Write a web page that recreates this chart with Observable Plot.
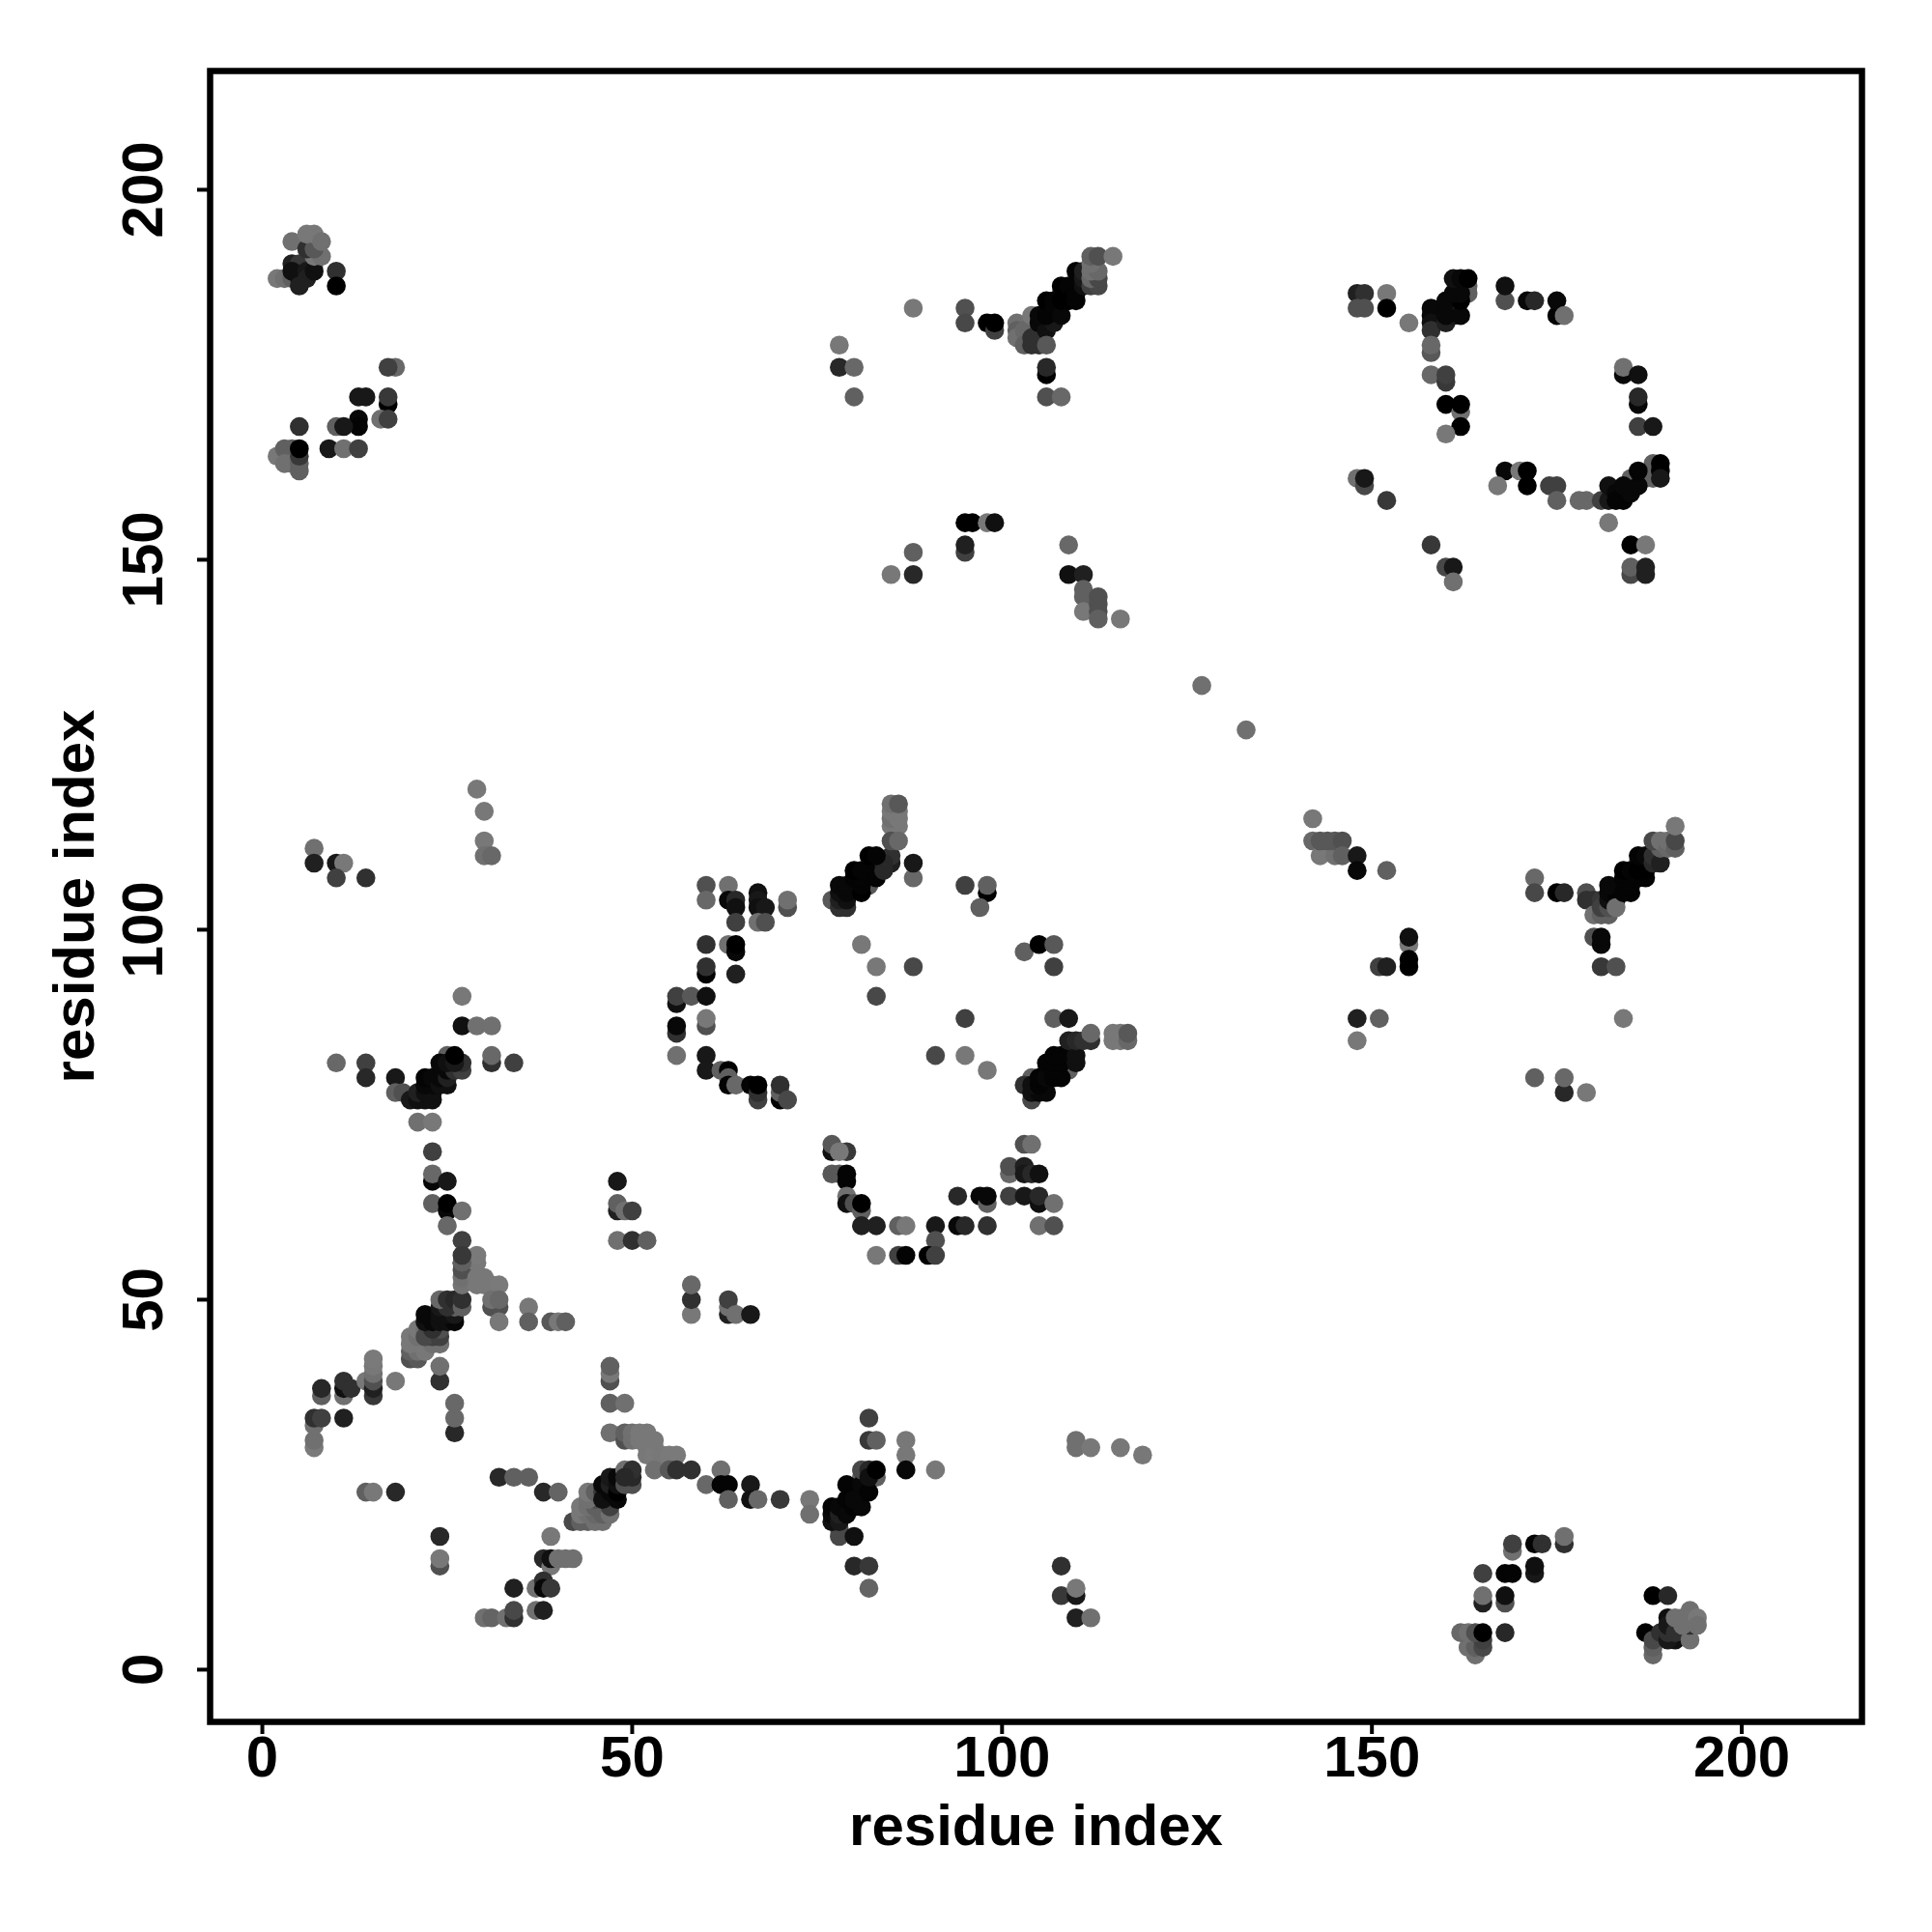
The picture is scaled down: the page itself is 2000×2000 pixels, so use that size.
<!DOCTYPE html>
<html><head><meta charset="utf-8">
<script src="https://cdn.jsdelivr.net/npm/d3@7"></script>
<script src="https://cdn.jsdelivr.net/npm/@observablehq/plot@0.6"></script>
<style>html,body{margin:0;padding:0;background:#fff}</style>
</head><body><div id="chart"></div>
<script>
// Each contact: [residue x, residue y, shade 0 (strong) .. 128 (weak)]
const tickValues = [0, 50, 100, 150, 200];
const axisLabel = "residue index";

const lowerLeft = [
[7,30,122],[7,31,112],[7,33,112],[7,34,48],[8,34,64],[8,37,96],[8,38,40],[11,34,32],[11,37,112],[11,38,16],[11,39,48],[12,38,48],
[14,39,120],[15,37,56],[15,38,32],[15,39,80],[15,40,112],[15,41,120],[15,42,122],[18,39,120],
[14,24,96],[15,24,120],[18,24,40],[24,18,40],[24,14,80],[24,15,120],[24,39,48],[24,41,112],[26,32,40],[26,34,104],[26,36,104],
[20,42,80],[21,42,88],[20,43,96],[21,43,112],[22,43,120],[23,44,112],[24,44,112],[20,44,120],[20,45,120],[21,45,112],[21,46,120],[22,46,112],
[23,45,64],[22,45,72],[24,45,64],[24,46,80],[23,46,48],[22,47,16],[23,47,8],[22,48,8],[24,47,16],[25,47,16],[26,47,8],[24,48,16],[25,48,16],[24,49,24],
[26,48,24],[26,49,96],[25,49,48],[24,50,104],[25,50,48],[26,50,40],[27,49,96],[27,50,48],
[27,52,116],[27,53,112],[27,54,80],[27,55,48],[29,52,120],[29,53,120],[30,53,120],[30,52,120],[31,52,120],[32,52,122],[29,55,120],[29,56,122],
[31,49,80],[32,49,80],[31,50,112],[32,50,104],[32,47,120],[36,49,120],[36,47,96],[39,47,88],[40,47,120],[41,47,96],
[32,26,40],[34,26,96],[36,26,96],[38,24,40],[40,24,100],[39,18,120],[38,15,40],[39,14,120],[39,15,16],[40,15,112],[41,15,112],[42,15,112],
[34,11,32],[37,11,112],[38,12,48],[38,11,8],[39,11,56],[30,7,112],[31,7,100],[33,7,112],[34,7,48],[34,8,72],[37,8,112],[38,8,32]
];
const blobB = [
[42,20,72],[43,20,96],[44,20,96],[45,20,112],[46,20,112],[43,21,120],[44,21,112],[45,21,104],[43,22,120],[44,22,112],[45,22,96],[46,21,96],[47,21,112],[45,23,80],[47,22,64],[44,23,112],[44,24,120],[45,24,96],[46,24,56],
[46,23,16],[46,25,8],[47,24,8],[47,25,32],[48,23,8],[48,24,0],[47,26,24],[48,25,16],[48,26,8],[49,25,80],[50,25,80],[50,26,40],[49,27,112],[50,27,48],[49,26,40]
];
const lowerMid = [
[47,32,112],[47,36,96],[47,39,80],[47,40,120],[47,41,96],[49,36,112],[49,31,80],[49,32,96],[50,31,112],[50,32,112],[52,32,120],[52,30,120],[53,30,122],[52,29,120],[53,29,122],[54,29,120],[55,29,122],[56,29,122],[53,31,120],[51,31,120],[51,32,120],
[53,27,112],[55,27,88],[56,27,48],[58,27,48],[58,48,120],[58,50,48],[58,52,104],[63,48,32],[63,49,112],[63,50,64],[64,48,112],[66,48,24],
[60,25,104],[62,27,112],[62,25,4],[63,25,4],[63,23,96],[66,25,24],[66,23,16],[67,23,104],[70,23,56],[74,23,120],[74,21,112],
[80,24,96],[83,26,96],[81,26,96],[78,19,80],[78,18,72],[80,18,16],[77,20,16],[77,21,8],[77,22,4],[78,20,24],[78,21,32],[78,22,8],[79,21,8],[79,23,4],[79,25,4],[80,22,4],[81,22,8],[81,24,4],[80,23,8],[81,25,8],[82,24,4],[81,27,72],[82,27,40],[82,26,16],[83,27,0],
[82,34,64],[82,31,56],[83,31,96],[87,31,120],[87,29,120],[87,27,8],[91,27,120],[80,14,40],[82,14,56],[82,11,100],
[108,14,48],[108,10,56],[110,10,24],[110,11,120],[110,7,32],[112,7,112],[110,31,112],[110,30,112],[112,30,120],[116,30,120],[119,29,120],[133,127,112]
];
const leftMid = [
[7,111,112],[7,109,32],[10,109,24],[11,109,120],[10,107,64],[14,107,48],[29,119,120],[30,116,120],[30,112,120],[30,110,112],[31,110,104],
[27,91,120],[27,87,16],[29,87,112],[31,87,112],[10,82,104],[14,82,64],[14,80,40],[18,80,24],[18,78,96],[19,78,80],[31,82,48],[31,83,104],[34,82,64],
[24,81,96],[25,83,96],[20,77,24],[21,77,16],[22,77,16],[23,77,16],[21,78,32],[22,78,16],[23,78,16],[22,79,8],[23,79,8],[22,80,4],[23,80,8],[24,79,16],[25,79,16],[24,80,8],[25,80,32],[24,82,8],[25,81,8],[26,81,48],[25,82,16],[27,81,64],[27,82,48],[26,82,24],[26,83,0],
[21,74,112],[23,74,120],[23,70,64],[23,66,8],[23,67,104],[25,66,24],[23,63,96],[25,62,8],[25,63,0],[27,62,112],[25,60,104],[27,58,64],[27,55,96],[27,56,56],
[48,66,24],[48,62,32],[48,63,96],[49,62,112],[50,62,64],[48,58,112],[50,58,48],[52,58,96]
];
const ringCenter = [
[60,106,80],[63,106,112],[60,104,104],[63,104,8],[64,104,40],[64,103,16],[64,101,64],[67,105,16],[67,104,24],[67,103,16],[68,103,24],[67,101,112],[68,101,80],[71,103,80],[71,104,112],
[60,98,48],[63,98,112],[64,97,8],[64,98,0],[60,94,4],[60,95,48],[64,94,32],[56,90,16],[56,91,64],[58,91,88],[60,91,16],[56,86,48],[56,87,8],[60,87,80],[60,88,120],[56,83,112],[60,83,24],[60,81,24],[62,81,96],[63,81,0],[63,80,96],[63,79,4],[64,79,104],[66,79,4],[67,77,64],[67,78,48],[67,79,0],[70,77,4],[70,78,96],[70,79,48],[71,77,72],
[85,114,120],[86,114,120],[85,115,112],[86,115,120],[85,116,120],[86,116,120],[85,117,112],[86,117,88],
[85,109,32],[85,110,48],[85,112,80],[86,112,104],[88,107,104],[88,109,24],
[80,106,96],[82,106,88],[82,108,96],[77,104,88],[79,103,48],[78,103,48],[78,104,32],[79,104,16],[78,105,16],[79,105,8],[78,106,8],[79,106,8],[81,105,0],[81,106,4],[80,107,4],[81,107,4],[80,108,0],[81,108,4],[83,107,4],[83,108,4],[83,109,4],[84,109,40],[84,108,40],[82,110,0],[83,110,4],
[81,98,120],[83,95,120],[88,95,72],[83,91,72],[95,88,64],[91,83,72],[95,83,120],[98,81,120],[95,106,64],[98,105,0],[98,106,96],[97,103,96],[103,97,96],[105,98,0],[107,98,88],[107,95,64],[107,88,96],[109,88,24],
[104,80,96],[106,81,96],[108,81,100],[109,81,96],[104,77,72],[103,79,48],[104,78,16],[105,78,8],[106,78,8],[104,79,16],[105,79,4],[105,80,4],[106,80,8],[107,80,4],[108,80,4],[106,82,4],[107,81,4],[107,82,4],[108,82,4],[107,83,4],[108,83,4],[109,83,4],[110,82,16],[110,83,16],[109,85,32],[110,85,40],[111,85,48],[112,85,48],[112,86,104],
[115,85,120],[115,86,120],[116,85,120],[116,86,120],[117,85,104],[117,86,88],
[77,70,16],[77,71,88],[79,70,56],[78,70,120],[77,67,88],[78,67,88],[79,66,4],[79,67,4],[79,64,112],[79,63,16],[80,63,80],[81,62,96],[81,63,0],[81,60,32],[83,60,32],
[86,60,96],[87,60,120],[91,60,24],[91,58,80],[94,60,8],[95,60,40],[98,60,48],[94,64,40],[97,64,8],[98,63,96],[98,64,8],
[101,64,64],[103,64,24],[105,63,16],[105,64,40],[107,63,112],[105,60,112],[107,60,80],[101,67,104],[101,68,80],[103,68,32],[103,67,24],[104,67,40],[105,67,16],[103,71,80],[104,71,112],
[83,56,120],[86,56,64],[87,56,4],[90,56,0],[91,56,64]
];
const rightMid = [
[142,115,120],[142,112,104],[143,110,120],[145,110,112],[143,112,88],[144,112,88],[145,112,88],[146,112,80],[146,110,96],[148,110,24],[148,108,8],[152,108,96],
[155,98,120],[155,99,16],[155,96,0],[155,95,0],[151,95,64],[152,95,32],[148,88,32],[151,88,96],[148,85,120],
[172,107,104],[172,105,72],[175,105,0],[176,105,40],[179,105,80],[179,104,48],[180,104,48],[181,104,56],[180,102,112],[181,102,96],[182,102,96],[181,103,64],[182,103,80],
[184,106,96],[186,109,96],[182,104,16],[183,104,8],[182,105,8],[183,105,4],[182,106,8],[183,103,112],[184,105,4],[185,105,4],[185,106,4],[184,107,4],[185,107,4],[184,108,0],[185,108,4],[186,107,4],[187,107,4],[186,108,0],[187,108,0],[186,110,4],[187,110,8],[188,109,40],[188,110,48],[189,109,32],[189,111,96],[188,112,72],[189,112,112],[190,111,104],[190,112,112],[191,111,96],[191,112,72],[191,114,120],
[180,99,80],[181,98,8],[181,99,8],[181,95,56],[183,95,80],[184,88,120],[172,80,96],[176,78,40],[176,80,104],[179,78,120]
];
const upperMid = [
[88,184,120],[78,179,120],[78,176,40],[80,176,104],[80,172,96],[95,184,80],[95,182,72],[98,182,0],[99,181,64],[99,182,0],
[102,182,112],[102,181,96],[102,180,112],[103,181,104],[103,179,96],[104,179,48],[105,179,48],[104,180,48],[105,181,48],[104,183,120],[106,182,40],[105,182,8],[106,181,16],[107,182,24],[105,183,8],[106,183,4],[106,179,88],[106,175,0],[106,176,40],[106,172,80],[108,172,104],
[108,186,96],[110,187,96],[106,185,0],[107,185,4],[107,184,4],[108,183,8],[108,185,0],[108,187,0],[109,187,4],[109,185,0],[110,185,4],[110,186,4],[110,189,4],[111,187,16],[111,188,24],[111,189,32],[112,187,64],[113,187,72],[112,188,104],[113,188,72],[112,189,112],[113,189,104],[112,190,112],[112,191,96],[113,191,80],[115,191,120],
[95,151,64],[95,152,32],[95,155,0],[96,155,0],[98,155,120],[99,155,16],[88,151,96],[88,148,40],[85,148,120],
[109,152,104],[109,148,16],[111,148,32],[111,146,96],[111,145,96],[111,143,120],[113,145,80],[113,144,80],[113,143,80],[113,142,96],[116,142,120],
[127,133,112]
];
const upperRight = [
[148,186,32],[149,186,48],[148,184,80],[149,184,80],[152,186,120],[152,184,0],[155,182,120],
[158,184,8],[158,183,8],[158,182,16],[158,181,48],[158,178,88],[158,179,104],[158,175,104],[160,174,56],[160,175,64],
[160,171,0],[162,170,112],[162,171,0],[162,168,0],[160,167,120],
[161,184,96],[161,185,96],[163,186,96],[163,187,96],[160,182,32],[161,183,24],[160,183,8],[160,185,8],[162,183,8],[162,185,0],[161,186,8],[162,186,8],[161,188,16],[162,188,8],[163,188,0],
[168,185,80],[168,187,16],[171,185,8],[172,185,40],[175,183,4],[175,185,8],[176,183,112],
[184,175,8],[184,176,112],[186,175,16],[186,171,8],[186,172,40],[186,168,64],[188,168,24],
[168,162,8],[170,162,120],[171,162,0],[171,160,0],[167,160,120],[174,160,64],[175,160,64],[175,158,96],[178,158,104],[179,158,104],[181,158,64],[182,158,24],
[185,161,96],[187,161,100],[188,163,96],[188,161,96],[182,160,16],[183,159,8],[183,158,4],[184,158,4],[184,160,8],[185,159,8],[186,160,8],[186,162,4],[189,163,0],[189,162,0],[189,161,24],
[182,155,120],[185,152,0],[187,152,120],[185,148,72],[185,149,96],[187,148,32],[187,149,32],[158,152,56],[160,149,72],[161,149,24],[161,147,112],
[148,161,112],[149,160,72],[149,161,24],[152,158,56]
];
const upperLeft = [
[2,188,120],[3,188,112],[4,188,96],[7,190,120],[4,190,32],[5,190,56],[4,189,16],[5,188,16],[6,189,24],[6,188,32],[5,187,32],[7,189,16],[7,191,120],[8,191,112],
[4,193,112],[6,192,48],[7,192,88],[6,194,120],[7,194,120],[8,193,112],[10,189,48],[10,187,0],
[18,176,104],[17,176,64],[17,171,0],[17,172,56],[16,169,112],[17,169,64],[13,172,24],[14,172,24],[13,169,8],[13,168,4],[10,168,96],[11,168,24],[5,168,48],[9,165,24],[11,165,112],[13,165,64],
[2,164,120],[3,165,96],[4,165,96],[3,163,112],[4,163,112],[5,162,96],[5,163,96],[5,164,56],[5,165,0]
];
const lowerRight = [
[176,17,48],[176,18,112],[172,17,4],[173,17,48],[169,16,112],[169,17,64],[165,13,64],[168,13,4],[169,13,4],[172,13,24],[172,14,16],[165,9,32],[165,10,112],[168,9,80],[168,10,16],
[164,2,112],[163,3,112],[164,3,96],[165,3,72],[165,4,64],[162,5,104],[163,5,112],[164,5,80],[165,5,0],[168,5,40],
[188,10,0],[190,10,40],[187,5,0],[188,2,104],[188,3,96],[188,4,72],[189,5,48],[190,7,16],[191,4,16],[190,4,24],[190,5,48],[190,6,24],[191,5,48],[193,4,112],[193,6,48],[193,7,96],[193,8,112],[192,6,112],[191,7,112],[192,7,112],[194,7,120],[194,6,112]
];

const contacts = [lowerLeft, blobB, lowerMid, leftMid, ringCenter, rightMid, upperMid, upperRight, upperLeft, lowerRight]
  .flat().map(([x, y, shade]) => ({x, y, shade}));

const plot = Plot.plot({
  width: 2000, height: 2000,
  marginLeft: 217, marginRight: 73, marginTop: 73, marginBottom: 218,
  style: {fontFamily: "'Liberation Sans', Arial, sans-serif", fontWeight: "bold", fontSize: "60px", background: "#fff", overflow: "visible"},
  x: {domain: [-7.06, 216.25]},
  y: {domain: [-7.06, 216.05]},
  color: {type: "linear", domain: [0, 128], range: ["#000000", "#808080"]},
  marks: [
    Plot.dot(contacts, {x: "x", y: "y", fill: "shade", r: 9.8, stroke: "none"}),
    Plot.frame({stroke: "#000", strokeWidth: 6.5}),
    Plot.axisX({ticks: tickValues, tickSize: 13, tickPadding: 1, strokeWidth: 4, tickFormat: d => String(d),
      label: axisLabel, labelAnchor: "center", labelArrow: "none", labelOffset: 127}),
    Plot.axisY({ticks: tickValues, tickSize: 13, tickPadding: 37, strokeWidth: 4, tickRotate: -90, tickFormat: d => String(d),
      label: axisLabel, labelAnchor: "center", labelArrow: "none", labelOffset: 163})
  ]
});
document.getElementById("chart").appendChild(plot);
</script></body></html>
